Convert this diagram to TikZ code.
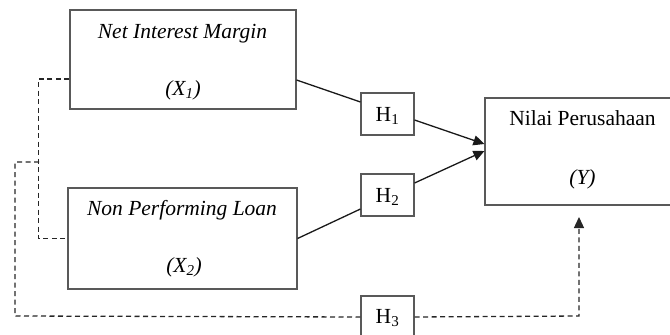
\documentclass[tikz,border=0pt]{standalone}
\usepackage{fontspec}
\setmainfont{Liberation Serif}
\usetikzlibrary{arrows.meta}
\begin{document}
\begin{tikzpicture}[x=1pt,y=-1pt,
  box/.style={draw=black!65,line width=1.1pt,inner sep=0pt},
  lbl/.style={inner sep=0pt,anchor=base,font=\fontsize{21.5}{25}\selectfont},
  hbox/.style={draw=black!65,line width=1.1pt,inner sep=0pt,minimum width=53pt,minimum height=42pt},
  conn/.style={line width=1.3pt,black!90},
  dconn/.style={line width=1.3pt,black!85,dash pattern=on 5pt off 3.5pt},
  tip/.style={-{Triangle[length=11pt,width=10pt]}}]
\useasboundingbox (0,0) rectangle (670,335);
\clip (0,0) rectangle (670,335);
\node[box,minimum width=226pt,minimum height=99pt] (X1) at (183,59.5) {};
\node[box,minimum width=229pt,minimum height=101pt] (X2) at (182.5,238.5) {};
\node[box,minimum width=195pt,minimum height=107pt] (Y) at (582.5,151.5) {};
\node[hbox] (H1) at (387.5,114) {};
\node[hbox] (H2) at (387.5,195) {};
\node[hbox] (H3) at (387.5,317) {};
\node[lbl,font=\fontsize{21.5}{25}\selectfont\itshape] (t1) at (182.5,38.5) {Net Interest Margin};
\node[lbl,font=\fontsize{21.5}{25}\selectfont\itshape] (t2) at (183,95) {(X\textsubscript{1})};
\node[lbl,font=\fontsize{21.5}{25}\selectfont\itshape] (t3) at (182,215) {Non Performing Loan};
\node[lbl,font=\fontsize{21.5}{25}\selectfont\itshape] (t4) at (184,272) {(X\textsubscript{2})};
\node[lbl] (t5) at (582.5,125) {Nilai Perusahaan};
\node[lbl,font=\fontsize{21.5}{25}\selectfont\itshape] (t6) at (582.5,184) {(Y)};
\node[lbl] (h1) at (387.5,121.7) {H\textsubscript{1}};
\node[lbl] (h2) at (387.5,202) {H\textsubscript{2}};
\node[lbl] (h3) at (387.5,323) {H\textsubscript{3}};
\coordinate (J) at (39,162);
\coordinate (B) at (15,162);
\coordinate (C) at (15,316);
\coordinate (D) at (579,316);
\coordinate (T) at (579,217);
\draw[conn] ([yshift=-20.5pt]X1.east) -- ([yshift=12pt]H1.west);
\draw[conn,tip] ([yshift=-6pt]H1.east) -- ([yshift=7.5pt]Y.west);
\draw[conn] (X2.east) -- ([yshift=-14pt]H2.west);
\draw[conn,tip] ([yshift=12pt]H2.east) -- ([yshift=0.5pt]Y.west);
\draw[dconn] ([yshift=-19.5pt]X1.west) -- ++(-31,0) |- (X2.west);
\draw[dconn] (J) -- (B) -- (C) -- (H3.west);
\draw[dconn,tip] (H3.east) -- (D) -- (T);
\end{tikzpicture}
\end{document}
